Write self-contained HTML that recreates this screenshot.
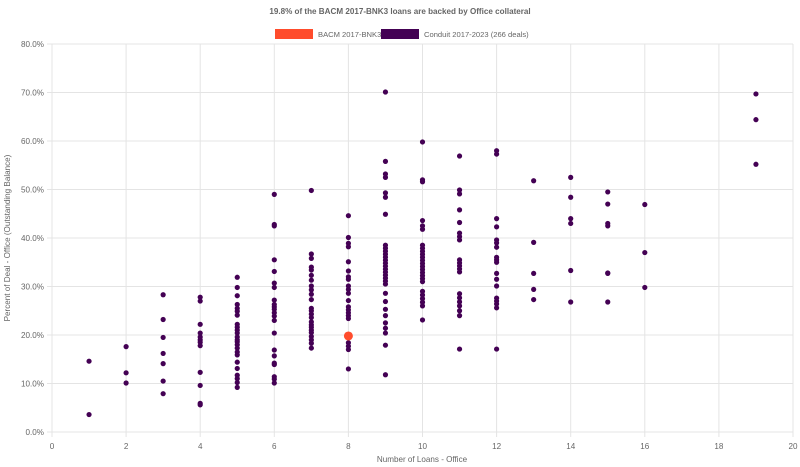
<!DOCTYPE html>
<html><head><meta charset="utf-8"><style>
html,body{margin:0;padding:0;background:#fff;}
svg{display:block;font-family:"Liberation Sans",sans-serif;}
</style></head><body>
<svg id="s" width="800" height="467" viewBox="0 0 800 467" xmlns="http://www.w3.org/2000/svg">
<text x="400" y="14" text-anchor="middle" font-size="8.1" font-weight="bold" fill="#666">19.8% of the BACM 2017-BNK3 loans are backed by Office collateral</text>
<rect x="275" y="29" width="38" height="10" fill="#ff4c2c"/>
<text x="318" y="37" font-size="7.6" fill="#666">BACM 2017-BNK3</text>
<rect x="381" y="29" width="38" height="10" fill="#440154"/>
<text x="424" y="37" font-size="7.6" fill="#666">Conduit 2017-2023 (266 deals)</text>
<g id="grid"></g>
<g id="pts"></g>
<text x="422" y="462" text-anchor="middle" font-size="8.1" fill="#666">Number of Loans - Office</text>
<text transform="translate(10,238) rotate(-90)" text-anchor="middle" font-size="8.1" fill="#666">Percent of Deal - Office (Outstanding Balance)</text>
</svg>
<script>
var NS="http://www.w3.org/2000/svg";
var X0=52,XS=37.05,Y0=432,YS=4.85;
function px(v){return X0+v*XS}function py(p){return Y0-p*YS}
var g=document.getElementById('grid'),P=document.getElementById('pts');
function el(t,a,par,txt){var e=document.createElementNS(NS,t);for(var k in a)e.setAttribute(k,a[k]);if(txt!=null)e.textContent=txt;par.appendChild(e);return e}
for(var i=0;i<=20;i+=2){el('line',{x1:px(i),x2:px(i),y1:44,y2:437,stroke:'#e4e4e4','stroke-width':1},g);el('text',{x:px(i),y:449,'text-anchor':'middle','font-size':8.1,fill:'#666'},g,i)}
for(var j=0;j<=80;j+=10){el('line',{x1:47,x2:793,y1:py(j),y2:py(j),stroke:'#e4e4e4','stroke-width':1},g);el('text',{x:44,y:py(j)+3,'text-anchor':'end','font-size':8.1,fill:'#666'},g,j.toFixed(1)+'%')}
function r(a,b,n){var o=[];for(var i=0;i<n;i++)o.push(a+(b-a)*i/(n-1));return o}
var D={
1:[14.6,3.6],2:[17.6,12.2,10.1],3:[28.3,23.2,19.5,16.2,14.1,10.5,7.9],
4:[27.8,27,22.2,20.4,19.6,19,18.5,17.8,12.3,9.6,5.9,5.6],
5:[31.9,29.8,28.1,26.3,25.5,24.9,24.1,22.2,21.6,21,20.4,19.6,19,18.6,18,17.3,16.5,15.9,14.4,13.1,11.7,11,10.2,9.2],
6:[49,42.8,42.5,35.5,33.1,30.7,29.8,27.2,26.3,25.8,25.3,24.6,23.9,23,20.4,16.9,15.7,14.2,13.9,11.4,10.9,10.1],
7:[49.8,36.7,35.8,34,33.4,32.3,31.3,30.1,29.3,28.4,27.3,25.5,25,24.3,23.6,22.7,22.1,21.6,21,20.5,19.7,19,18.3,17.3],
8:[44.6,40.1,38.9,38.2,35.1,33.2,32,31.5,30.1,29.4,28.6,27.1].concat(r(23.4,25.8,5),[18.4,17.7,17,13]),
9:[70.1,55.8,53.2,52.5,49.3,48.4,44.9].concat(r(30.5,38.5,14),[28.6,26.9,25.3,24,22.5,21.4,20.4,17.9,11.8]),
10:[59.8,52,51.6,43.6,42.5,41.8].concat(r(31,38.5,13),r(26,29,5),[23.1]),
11:[56.9,49.9,49.1,45.8,43.2,41,40.3,39.6].concat(r(33,35.5,5),r(26,28.5,4),[25,24,17.1]),
12:[58,57.3,44,42.3,39.6,39,38.1,36,35.5,35,32.7,31.5,30.1,27.6,27,26.4,25.6,17.1],
13:[51.8,39.1,32.7,29.4,27.3],14:[52.5,48.4,44,43,33.3,26.8],15:[49.5,47,43,42.5,32.8,32.7,26.8],
16:[46.9,37,29.8],19:[69.7,64.4,55.2]};
for(var k in D)D[k].forEach(function(v){el('circle',{cx:px(+k),cy:py(v),r:2.6,fill:'#440154'},P)});
el('circle',{cx:px(8),cy:py(19.8),r:4.5,fill:'#ff4c2c'},P);
</script>
</body></html>
